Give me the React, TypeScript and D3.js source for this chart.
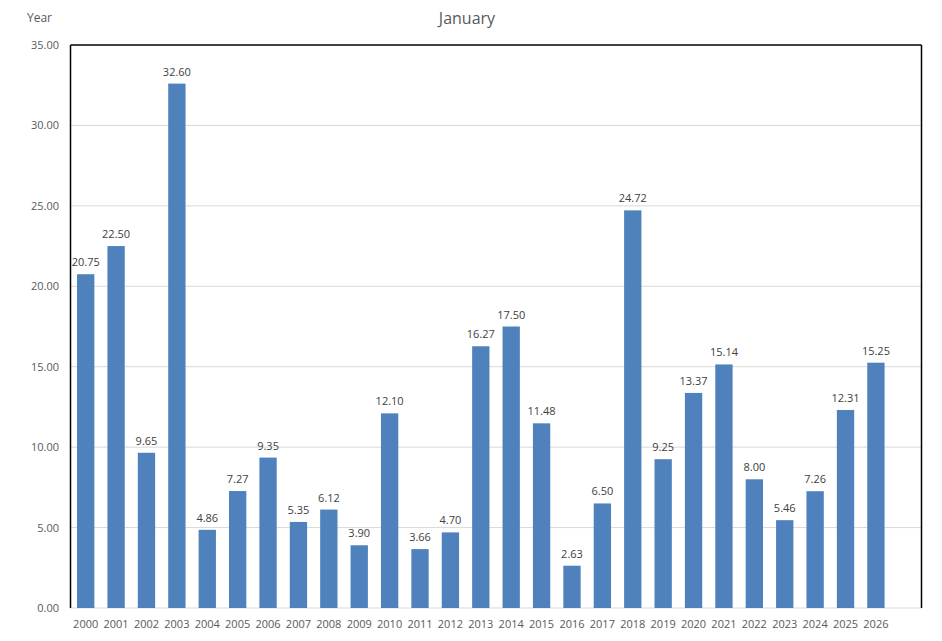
import React from "react";
import * as d3 from "d3";

const years = ["2000","2001","2002","2003","2004","2005","2006","2007","2008","2009","2010","2011","2012","2013","2014","2015","2016","2017","2018","2019","2020","2021","2022","2023","2024","2025","2026",""];
const values: (number | null)[] = [20.75,22.5,9.65,32.6,4.86,7.27,9.35,5.35,6.12,3.9,12.1,3.66,4.7,16.27,17.5,11.48,2.63,6.5,24.72,9.25,13.37,15.14,8.0,5.46,7.26,12.31,15.25,null];
const yTicks = [0,5,10,15,20,25,30,35];

export default function App() {
  const W = 942, H = 641;
  const left = 70.5, right = 921.5, top = 45, bottom = 608;
  const x = d3.scaleBand<string>().domain(years.map((y, i) => y || "_" + i)).range([left, right]).paddingInner(0.43).paddingOuter(0.215);
  const y = d3.scaleLinear().domain([0, 35]).range([bottom, top]);
  const font = "'Open Sans', 'Noto Sans', sans-serif";
  return (
    <svg width={W} height={H} style={{ position: "absolute", left: 0, top: 0, background: "#fff" }} fontFamily={font}>
      <rect x={0} y={0} width={W} height={H} fill="#fff" />
      <text x={467} y={24} textAnchor="middle" fontSize={16} fill="#595959">January</text>
      <text x={27} y={22} fontSize={12} fill="#595959">Year</text>
      {yTicks.map(t => (
        <g key={t}>
          {t > 0 && t < 35 && <line x1={left} x2={right} y1={y(t)} y2={y(t)} stroke="#d9d9d9" strokeWidth={1} />}
          <text x={59} y={y(t) + 4} textAnchor="end" fontSize={11} fill="#595959">{t.toFixed(2)}</text>
        </g>
      ))}
      <line x1={left} x2={right} y1={bottom} y2={bottom} stroke="#d9d9d9" strokeWidth={1} />
      {years.map((yr, i) => {
        const key = yr || "_" + i;
        const v = values[i];
        const bx = x(key)!;
        return (
          <g key={key}>
            {v != null && <rect x={bx} y={y(v)} width={x.bandwidth()} height={bottom - y(v)} fill="#4f81bd" />}
            {v != null && <text x={bx + x.bandwidth() / 2} y={y(v) - 8} textAnchor="middle" fontSize={11} fill="#404040">{v.toFixed(2)}</text>}
            {yr && <text x={bx + x.bandwidth() / 2} y={628} textAnchor="middle" fontSize={11} fill="#595959">{yr}</text>}
          </g>
        );
      })}
      <line x1={left} x2={right} y1={top} y2={top} stroke="#000" strokeWidth={1.5} />
      <line x1={left} x2={left} y1={top} y2={bottom} stroke="#000" strokeWidth={1.5} />
      <line x1={right} x2={right} y1={top} y2={bottom} stroke="#000" strokeWidth={1.5} />
    </svg>
  );
}
